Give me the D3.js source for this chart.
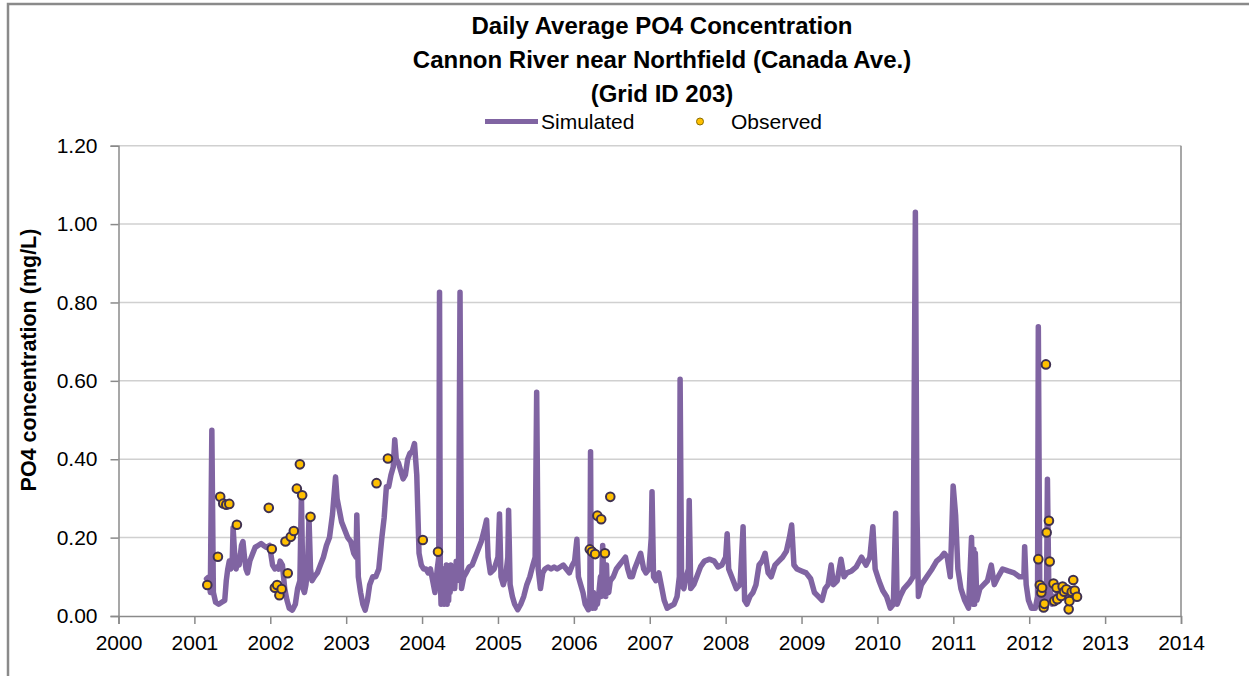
<!DOCTYPE html>
<html><head><meta charset="utf-8">
<script src="https://cdn.jsdelivr.net/npm/d3@7"></script>
<style>
html,body{margin:0;padding:0;background:#fff;}
svg text{font-family:"Liberation Sans",Arial,sans-serif;fill:#000;}
</style></head>
<body>
<svg id="chart" width="1249" height="676"></svg>
<script>
// ---- data ----
const titleLines = ["Daily Average PO4 Concentration", "Cannon River near Northfield (Canada Ave.)", "(Grid ID 203)"];
const yTicks = [0, 0.2, 0.4, 0.6, 0.8, 1.0, 1.2];
const xTicks = [2000,2001,2002,2003,2004,2005,2006,2007,2008,2009,2010,2011,2012,2013,2014];
const seriesNames = ["Simulated", "Observed"];

// Simulated daily average PO4 (decimal year, mg/L)
const simYears = [
2001.16,2001.19,2001.21,2001.23,2001.25,2001.28,2001.32,2001.36,2001.40,2001.42,2001.44,2001.46,2001.48,2001.50,2001.51,2001.53,2001.55,2001.57,2001.59,2001.62,2001.64,2001.66,2001.68,2001.70,2001.73,2001.77,2001.80,2001.84,2001.88,2001.91,2001.95,2001.99,
2002.01,2002.03,2002.06,2002.09,2002.11,2002.13,2002.16,2002.19,2002.22,2002.25,2002.29,2002.33,2002.36,2002.39,2002.41,2002.43,2002.45,2002.47,2002.49,2002.51,2002.53,2002.55,2002.58,2002.62,2002.66,2002.70,2002.74,2002.78,2002.82,2002.86,2002.88,2002.91,2002.94,2002.98,
2003.02,2003.06,2003.10,2003.13,2003.14,2003.16,2003.19,2003.22,2003.25,2003.28,2003.31,2003.35,2003.39,2003.43,2003.47,2003.50,2003.53,2003.56,2003.59,2003.62,2003.64,2003.66,2003.69,2003.72,2003.75,2003.78,2003.81,2003.84,2003.87,2003.90,2003.93,2003.96,2003.99,
2004.02,2004.05,2004.08,2004.11,2004.14,2004.17,2004.20,2004.22,2004.23,2004.24,2004.25,2004.26,2004.27,2004.28,2004.29,2004.30,2004.31,2004.32,2004.33,2004.34,2004.35,2004.36,2004.37,2004.38,2004.40,2004.42,2004.43,2004.45,2004.46,2004.48,2004.50,2004.52,2004.55,2004.58,2004.62,2004.66,2004.70,2004.74,2004.78,2004.82,2004.85,2004.87,2004.90,2004.95,
2005.00,2005.02,2005.04,2005.07,2005.10,2005.13,2005.14,2005.16,2005.19,2005.22,2005.26,2005.30,2005.34,2005.38,2005.42,2005.46,2005.49,2005.51,2005.53,2005.56,2005.59,2005.62,2005.66,2005.70,2005.74,2005.78,2005.82,2005.86,2005.90,2005.94,2005.98,
2006.01,2006.04,2006.06,2006.09,2006.12,2006.15,2006.19,2006.21,2006.22,2006.23,2006.25,2006.26,2006.28,2006.29,2006.31,2006.33,2006.35,2006.36,2006.38,2006.40,2006.41,2006.42,2006.43,2006.44,2006.46,2006.48,2006.52,2006.56,2006.60,2006.64,2006.68,2006.71,2006.74,2006.77,2006.80,2006.84,2006.88,2006.92,2006.95,2006.99,
2007.02,2007.03,2007.05,2007.08,2007.12,2007.15,2007.19,2007.23,2007.27,2007.32,2007.36,2007.39,2007.40,2007.42,2007.45,2007.48,2007.51,2007.52,2007.54,2007.58,2007.62,2007.67,2007.72,2007.79,2007.85,2007.90,2007.95,
2008.00,2008.02,2008.04,2008.08,2008.14,2008.19,2008.23,2008.25,2008.28,2008.32,2008.36,2008.40,2008.44,2008.48,2008.52,2008.56,2008.60,2008.65,2008.70,2008.75,2008.80,2008.84,2008.87,2008.90,2008.94,
2009.00,2009.06,2009.12,2009.17,2009.22,2009.27,2009.31,2009.35,2009.39,2009.42,2009.47,2009.52,2009.56,2009.60,2009.66,2009.72,2009.79,2009.85,2009.90,2009.94,2009.97,
2010.02,2010.07,2010.12,2010.17,2010.21,2010.24,2010.26,2010.30,2010.35,2010.42,2010.47,2010.50,2010.52,2010.54,2010.58,2010.65,2010.72,2010.78,2010.84,2010.88,2010.92,2010.96,2010.998,
2011.03,2011.06,2011.10,2011.15,2011.20,2011.24,2011.26,2011.27,2011.28,2011.29,2011.31,2011.35,2011.40,2011.45,2011.50,2011.54,2011.59,2011.65,2011.72,2011.80,2011.87,2011.93,2011.94,2011.96,2011.99,
2012.03,2012.08,2012.11,2012.12,2012.14,2012.16,2012.18,2012.20,2012.22,2012.23,2012.24,2012.26,2012.28,2012.30,2012.33,2012.35,2012.38,2012.40,2012.43,2012.46,2012.49,2012.52,2012.55,2012.58,2012.63];
const simValues = [
0.095,0.10,0.06,0.474,0.06,0.035,0.03,0.035,0.04,0.09,0.12,0.14,0.12,0.15,0.225,0.16,0.12,0.15,0.13,0.18,0.19,0.15,0.12,0.11,0.14,0.16,0.175,0.18,0.185,0.18,0.175,0.18,
0.155,0.13,0.12,0.125,0.12,0.14,0.13,0.07,0.04,0.02,0.015,0.03,0.07,0.09,0.31,0.07,0.06,0.08,0.12,0.25,0.12,0.09,0.10,0.11,0.13,0.15,0.18,0.20,0.26,0.355,0.30,0.27,0.24,0.22,
0.20,0.19,0.16,0.15,0.258,0.10,0.06,0.03,0.015,0.04,0.08,0.10,0.10,0.12,0.20,0.25,0.33,0.33,0.36,0.38,0.45,0.40,0.39,0.37,0.35,0.36,0.40,0.415,0.42,0.44,0.36,0.16,0.13,
0.12,0.12,0.11,0.12,0.09,0.06,0.12,0.15,0.826,0.10,0.03,0.12,0.04,0.12,0.03,0.11,0.05,0.13,0.03,0.12,0.04,0.11,0.06,0.13,0.08,0.12,0.07,0.14,0.09,0.10,0.826,0.07,0.10,0.11,0.125,0.13,0.15,0.17,0.19,0.22,0.245,0.15,0.11,0.12,
0.15,0.26,0.10,0.08,0.10,0.15,0.27,0.08,0.05,0.03,0.016,0.03,0.05,0.08,0.10,0.13,0.15,0.571,0.12,0.07,0.11,0.12,0.125,0.12,0.125,0.12,0.125,0.13,0.12,0.11,0.13,
0.14,0.196,0.10,0.08,0.06,0.03,0.016,0.02,0.419,0.03,0.02,0.06,0.02,0.05,0.03,0.06,0.10,0.05,0.18,0.06,0.12,0.05,0.13,0.07,0.06,0.09,0.10,0.12,0.13,0.14,0.15,0.12,0.10,0.10,0.12,0.14,0.16,0.12,0.11,0.12,
0.20,0.317,0.10,0.09,0.11,0.08,0.04,0.02,0.025,0.03,0.05,0.10,0.604,0.08,0.07,0.10,0.12,0.295,0.07,0.08,0.10,0.126,0.14,0.145,0.14,0.125,0.13,
0.15,0.21,0.12,0.10,0.07,0.08,0.228,0.04,0.03,0.05,0.06,0.08,0.13,0.14,0.16,0.11,0.10,0.13,0.14,0.15,0.165,0.20,0.232,0.13,0.12,
0.115,0.11,0.095,0.06,0.05,0.04,0.07,0.08,0.13,0.08,0.09,0.145,0.10,0.11,0.115,0.125,0.15,0.13,0.15,0.228,0.12,
0.09,0.065,0.05,0.02,0.03,0.262,0.03,0.05,0.07,0.085,0.10,1.030,0.27,0.05,0.08,0.10,0.12,0.14,0.15,0.16,0.15,0.10,0.332,
0.258,0.12,0.07,0.04,0.02,0.20,0.03,0.17,0.03,0.16,0.04,0.07,0.08,0.09,0.13,0.08,0.10,0.12,0.115,0.11,0.10,0.10,0.177,0.08,0.04,
0.02,0.02,0.05,0.738,0.03,0.05,0.02,0.04,0.03,0.10,0.349,0.04,0.06,0.03,0.05,0.04,0.06,0.04,0.07,0.05,0.07,0.05,0.07,0.06,0.06];

// Observed samples (decimal year, mg/L)
const obsYears = [
2001.17,2001.31,2001.34,2001.38,2001.42,2001.46,2001.56,
2001.98,2002.02,2002.06,2002.09,2002.12,2002.15,2002.20,2002.23,2002.27,2002.31,2002.35,2002.39,2002.42,2002.53,
2003.40,2003.55,2004.01,2004.21,
2006.21,2006.24,2006.28,2006.31,2006.36,2006.41,2006.48,
2012.12,2012.14,2012.16,2012.17,2012.19,2012.20,2012.22,2012.23,2012.26,2012.27,
2012.32,2012.33,2012.36,2012.37,2012.42,2012.44,2012.46,2012.49,2012.52,2012.53,2012.56,2012.58,2012.60,2012.63];
const obsValues = [
0.079,0.151,0.304,0.287,0.284,0.286,0.233,
0.276,0.171,0.072,0.079,0.053,0.069,0.19,0.109,0.202,0.217,0.325,0.387,0.308,0.253,
0.339,0.402,0.194,0.164,
0.17,0.164,0.158,0.256,0.247,0.16,0.304,
0.145,0.079,0.06,0.072,0.022,0.031,0.642,0.213,0.243,0.139,
0.083,0.038,0.072,0.043,0.051,0.075,0.062,0.068,0.017,0.038,0.062,0.092,0.065,0.049];

// ---- layout ----
const svg = d3.select("#chart");
const L = 118.5, R = 1181, T = 145.7, B = 616;
const x = d3.scaleLinear().domain([2000, 2014]).range([L, R]);
const y = d3.scaleLinear().domain([0, 1.2]).range([B, T]);
const purple = "#8064A2", gold = "#FFC000", dark = "#3F3151";

// outer chart frame
svg.append("rect").attr("x", 8).attr("y", 4).attr("width", 1300).attr("height", 700)
  .attr("fill", "none").attr("stroke", "#8a8a8a").attr("stroke-width", 2.5);

// gridlines
svg.append("g").selectAll("line").data(yTicks.filter(d => d > 0)).join("line")
  .attr("x1", L).attr("x2", R).attr("y1", d => y(d)).attr("y2", d => y(d))
  .attr("stroke", "#d0d0d0").attr("stroke-width", 1.5);
// right border of plot
svg.append("line").attr("x1", R).attr("x2", R).attr("y1", T).attr("y2", B)
  .attr("stroke", "#8a8a8a").attr("stroke-width", 1.5);

// axes
const yAxis = d3.axisLeft(y).tickValues(yTicks).tickFormat(d3.format(".2f")).tickSize(8).tickPadding(13);
const gy = svg.append("g").attr("transform", `translate(${L},0)`).call(yAxis);
const xAxis = d3.axisBottom(x).tickValues(xTicks).tickFormat(d3.format("d")).tickSize(8).tickPadding(11);
const gx = svg.append("g").attr("transform", `translate(0,${B})`).call(xAxis);
[gy, gx].forEach(g => {
  g.select(".domain").attr("stroke", "#8a8a8a").attr("stroke-width", 1.5);
  g.selectAll(".tick line").attr("stroke", "#8a8a8a").attr("stroke-width", 1.5);
  g.selectAll(".tick text").attr("font-size", 21).attr("fill", "#000")
    .style("font-family", '"Liberation Sans",Arial,sans-serif');
});

// simulated line
const simData = simYears.map((yr, i) => ({yr, v: simValues[i]}));
svg.append("path").datum(simData)
  .attr("fill", "none").attr("stroke", purple).attr("stroke-width", 5.5)
  .attr("stroke-linejoin", "round").attr("stroke-linecap", "round")
  .attr("d", d3.line().x(d => x(d.yr)).y(d => y(d.v)));

// observed points
const obsData = obsYears.map((yr, i) => ({yr, v: obsValues[i]}));
svg.append("g").selectAll("circle").data(obsData).join("circle")
  .attr("cx", d => x(d.yr)).attr("cy", d => y(d.v)).attr("r", 4.3)
  .attr("fill", gold).attr("stroke", dark).attr("stroke-width", 2);

// title
svg.append("g").selectAll("text").data(titleLines).join("text")
  .attr("x", 662).attr("y", (d, i) => 34 + i * 34)
  .attr("text-anchor", "middle").attr("font-size", 24).attr("font-weight", "bold")
  .text(d => d);

// legend
const lg = svg.append("g");
lg.append("line").attr("x1", 485).attr("x2", 538).attr("y1", 121.5).attr("y2", 121.5)
  .attr("stroke", purple).attr("stroke-width", 5);
lg.append("text").attr("x", 541).attr("y", 129).attr("font-size", 21).text(seriesNames[0]);
lg.append("circle").attr("cx", 700).attr("cy", 121.5).attr("r", 3.5)
  .attr("fill", gold).attr("stroke", "#8a6d00").attr("stroke-width", 1);
lg.append("text").attr("x", 731).attr("y", 129).attr("font-size", 21).text(seriesNames[1]);

// y-axis title
svg.append("text").attr("transform", "translate(36,360) rotate(-90)")
  .attr("text-anchor", "middle").attr("font-size", 21.5).attr("font-weight", "bold")
  .text("PO4 concentration (mg/L)");
</script>
</body></html>
